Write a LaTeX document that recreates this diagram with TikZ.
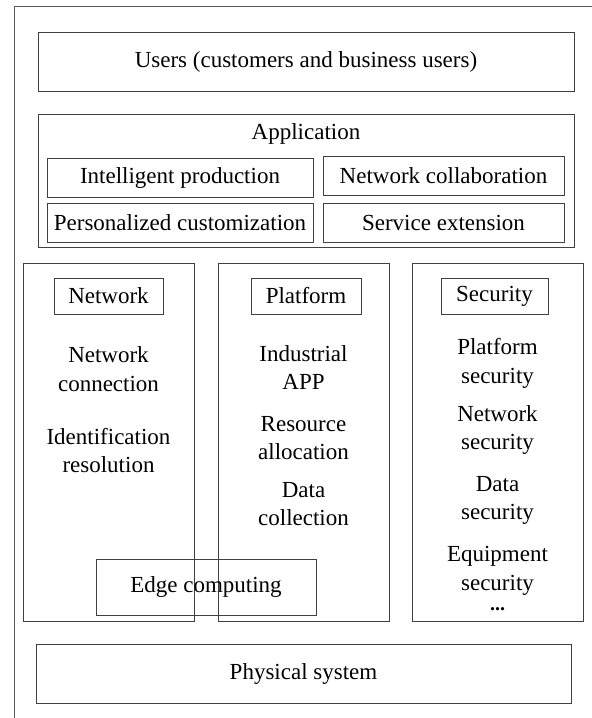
\documentclass[tikz,border=0pt]{standalone}
\usepackage{fontspec}
\setmainfont{Liberation Serif}
\usetikzlibrary{positioning}

\begin{document}
\begin{tikzpicture}[x=1pt, y=-1pt,
    font=\fontsize{23}{28.5}\selectfont,
    box/.style={draw=black!75, line width=0.8pt, inner sep=0pt},
    colbox/.style={box, minimum width=171pt, minimum height=358pt},
    item/.style={align=center, inner sep=0pt}]
    \useasboundingbox (0,0) rectangle (592,718);

    % Frame
    \draw[black!65, line width=0.9pt] (14,718) -- (14,6) -- (592,6);

    % Users
    \node[box, minimum width=536pt, minimum height=59pt] (users) at (306,61.5) {Users (customers and business users)};

    % Application
    \node[box, minimum width=536pt, minimum height=133pt] (app) at (306,181) {};
    \node (apptitle) at (306,134) {Application};
    \node[box, minimum width=266pt, minimum height=39pt] (prod) at (180,177.5) {Intelligent production};
    \node[box, minimum width=241pt, minimum height=39pt] (collab) at (443.5,175.5) {Network collaboration};
    \node[box, minimum width=266pt, minimum height=39pt] (custom) at (180,222.5) {Personalized customization};
    \node[box, minimum width=241pt, minimum height=39pt] (service) at (443.5,222.5) {Service extension};

    % Network
    \node[colbox] (network) at (108.5,442) {};
    \node[box, minimum width=109pt, minimum height=36pt] (nethead) at (108.5,296) {Network};
    \node[item] (netconn) at (108.5,369) {Network\\connection};
    \node[item] (ident) at (108.5,450.5) {Identification\\resolution};

    % Platform
    \node[colbox] (platform) at (303.5,442) {};
    \node[box, minimum width=110pt, minimum height=36pt] (plathead) at (306,296) {Platform};
    \node[item] (indapp) at (303.5,367.5) {Industrial\\APP};
    \node[item] (resalloc) at (303.5,438) {Resource\\allocation};
    \node[item] (datacoll) at (303.5,504) {Data\\collection};

    % Security
    \node[colbox] (security) at (497.5,442) {};
    \node[box, minimum width=107pt, minimum height=36pt] (sechead) at (494.5,296) {Security};
    \node[item] (platsec) at (497.5,363.5) {Platform\\security};
    \node[item] (netsec) at (497.5,430) {Network\\security};
    \node[item] (datasec) at (497.5,500.5) {Data\\security};
    \node[item] (equipsec) at (497.5,571) {Equipment\\security};
    \node[item, font=\fontsize{20}{22}\selectfont\bfseries] (more) at (497.5,609) {...};

    % Edge computing
    \node[box, minimum width=220pt, minimum height=56pt] (edge) at (206,587) {Edge computing};

    % Physical system
    \node[box, minimum width=535pt, minimum height=59pt] (physical) at (303.5,673.5) {Physical system};
\end{tikzpicture}
\end{document}
